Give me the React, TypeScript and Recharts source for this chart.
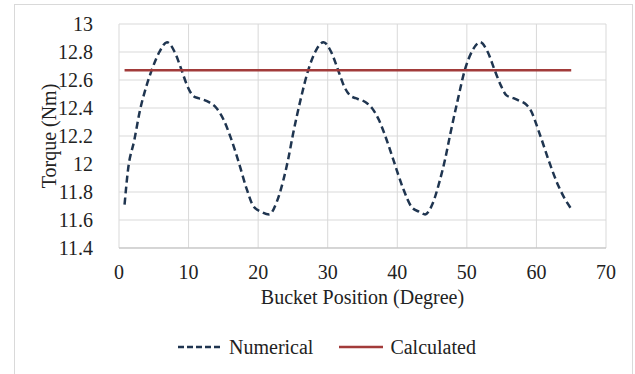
import React from 'react';
import { LineChart, Line, XAxis, YAxis, CartesianGrid, Legend } from 'recharts';

const positionDeg = [0.8, 1.3, 2.2, 3.0, 3.9, 4.7, 5.8, 6.9, 8.0, 9.0, 9.8, 10.6, 11.4, 12.1, 13.0, 14.0, 15.0, 15.9, 17.1, 18.3, 19.3, 20.4, 21.6, 22.6, 23.6, 24.3, 25.0, 26.1, 27.2, 28.3, 29.4, 30.5, 31.5, 32.4, 33.2, 34.0, 34.6, 35.5, 36.5, 37.4, 38.2, 39.5, 40.8, 42.1, 43.1, 44.0, 45.1, 46.1, 46.9, 47.6, 48.7, 49.7, 50.8, 51.9, 53.0, 54.0, 54.9, 55.7, 56.7, 57.6, 58.4, 59.1, 60.5, 61.8, 63.1, 64.1, 65.0];
const numericalTorque = [11.71, 11.96, 12.17, 12.38, 12.55, 12.67, 12.80, 12.87, 12.80, 12.67, 12.56, 12.49, 12.47, 12.46, 12.44, 12.40, 12.32, 12.21, 12.03, 11.83, 11.70, 11.66, 11.64, 11.72, 11.88, 12.03, 12.21, 12.46, 12.67, 12.81, 12.87, 12.80, 12.67, 12.55, 12.49, 12.47, 12.46, 12.44, 12.39, 12.31, 12.21, 12.02, 11.83, 11.69, 11.66, 11.64, 11.72, 11.88, 12.04, 12.21, 12.46, 12.67, 12.81, 12.87, 12.80, 12.67, 12.56, 12.49, 12.47, 12.45, 12.43, 12.39, 12.21, 12.02, 11.85, 11.75, 11.68];
const calculatedX = [0.8, 65.0];
const calculatedTorque = [12.67, 12.67];
const xTicks = [0, 10, 20, 30, 40, 50, 60, 70];
const yTicks = [11.4, 11.6, 11.8, 12, 12.2, 12.4, 12.6, 12.8, 13];

const numericalData = positionDeg.map((x, i) => ({ x, y: numericalTorque[i] }));
const calculatedData = calculatedX.map((x, i) => ({ x, y: calculatedTorque[i] }));

const NAVY = '#1f3550';
const RED = '#a23b3a';
const FONT = 'Liberation Serif, Times New Roman, serif';

const fmt = (v: number) => String(parseFloat(v.toFixed(1)));

const XTick = (props: any) => {
  const { x, y, payload } = props;
  return (
    <text x={x} y={y + 9} textAnchor="middle" dominantBaseline="hanging" fill="#222" fontFamily={FONT} fontSize={20} style={{ fontFamily: FONT }}>
      {fmt(payload.value)}
    </text>
  );
};

const YTick = (props: any) => {
  const { x, y, payload } = props;
  return (
    <text x={x - 18} y={y} textAnchor="end" dominantBaseline="central" fill="#222" fontFamily={FONT} fontSize={20} style={{ fontFamily: FONT }}>
      {fmt(payload.value)}
    </text>
  );
};

const LegendContent = () => (
  <div style={{ display: 'flex', justifyContent: 'flex-start', alignItems: 'center', fontFamily: FONT, fontSize: 20, color: '#222', height: 30 }}>
    <svg width={46} height={10} style={{ marginLeft: 177, marginRight: 6 }}>
      <line x1={1} y1={5} x2={45} y2={5} stroke={NAVY} strokeWidth={2.5} strokeDasharray="6 3" />
    </svg>
    <span>Numerical</span>
    <svg width={46} height={10} style={{ marginLeft: 25, marginRight: 6 }}>
      <line x1={1} y1={5} x2={45} y2={5} stroke={RED} strokeWidth={2.5} />
    </svg>
    <span>Calculated</span>
  </div>
);

export default function App() {
  return (
    <div style={{ position: 'absolute', left: 0, top: 0, width: 635, height: 374, background: '#fff', overflow: 'hidden', fontFamily: FONT }}>
      <div style={{ position: 'absolute', left: 14, top: 4, width: 619, height: 380, borderTop: '1px solid #d9d9d9', borderLeft: '1px solid #d9d9d9', borderRight: '1px solid #d9d9d9', boxSizing: 'border-box' }} />
      <LineChart width={635} height={374} margin={{ top: 24, right: 29, bottom: 36, left: 59 }} style={{ position: 'absolute', left: 0, top: 0, fontFamily: FONT }}>
        <CartesianGrid stroke="#d9d9d9" strokeWidth={1} />
        <XAxis
          type="number"
          dataKey="x"
          domain={[0, 70]}
          ticks={xTicks}
          interval={0}
          height={60}
          tickLine={false}
          axisLine={{ stroke: '#bfbfbf' }}
          tick={<XTick />}
          allowDuplicatedCategory={false}
          label={{ value: 'Bucket Position (Degree)', position: 'insideBottom', offset: 4, fill: '#222', fontFamily: FONT, fontSize: 20 }}
        />
        <YAxis
          type="number"
          dataKey="y"
          domain={[11.4, 13]}
          ticks={yTicks}
          interval={0}
          width={60}
          tickLine={false}
          axisLine={false}
          tick={<YTick />}
          label={{ value: 'Torque (Nm)', angle: -90, position: 'insideLeft', offset: -10, fill: '#222', fontFamily: FONT, fontSize: 20, style: { textAnchor: 'middle' } }}
        />
        <Legend verticalAlign="bottom" align="left" content={<LegendContent />} wrapperStyle={{ left: 0, width: 635, bottom: 12 }} />
        <Line data={numericalData} dataKey="y" name="Numerical" type="monotone" stroke={NAVY} strokeWidth={2.5} strokeDasharray="7 4" dot={false} isAnimationActive={false} />
        <Line data={calculatedData} dataKey="y" name="Calculated" type="linear" stroke={RED} strokeWidth={2.5} dot={false} isAnimationActive={false} />
      </LineChart>
    </div>
  );
}
